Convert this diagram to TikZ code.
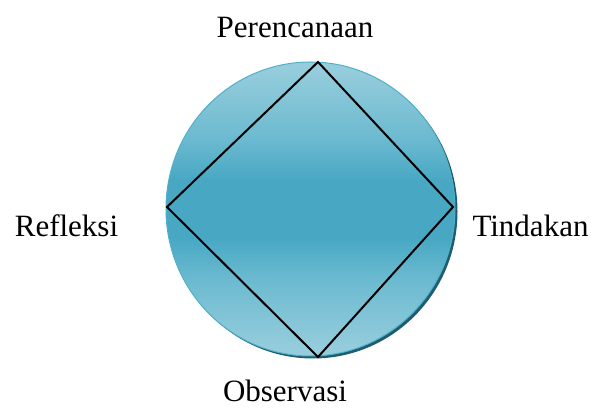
\documentclass[tikz,border=0pt]{standalone}
\usepackage{fontspec}
\setmainfont{Liberation Serif}
\definecolor{siklusterang}{RGB}{150,205,220}
\definecolor{sikluslembut}{RGB}{108,186,208}
\definecolor{siklustengah}{RGB}{72,168,196}
\definecolor{siklustepi}{RGB}{80,176,202}
\definecolor{siklusbayang}{RGB}{30,92,110}
\pgfdeclareverticalshading{pitabiru}{100bp}{
	color(0bp)=(siklusterang); color(26bp)=(siklusterang);
	color(38bp)=(sikluslembut); color(45bp)=(siklustengah);
	color(55bp)=(siklustengah); color(62bp)=(sikluslembut);
	color(74bp)=(siklusterang); color(100bp)=(siklusterang)}
\tikzset{
	tahap/.style={anchor=base, font=\fontsize{31}{36}\selectfont, inner sep=0pt},
	garis/.style={black, line width=2pt, line join=miter}
}
\begin{document}
\begin{tikzpicture}[x=1pt,y=-1pt]
	\useasboundingbox (0,0) rectangle (595,411);
	
	\fill[siklusbayang] (313,211.5) ellipse [x radius=144.5, y radius=147];
	\shade[shading=pitabiru, draw=siklustepi, line width=1pt] (310.5,209) ellipse [x radius=144.5, y radius=147];
	
	\coordinate (atas) at (318,62);
	\coordinate (kanan) at (453,207);
	\coordinate (bawah) at (318,357);
	\coordinate (kiri) at (167,207);
	\draw[garis] (atas)--(kanan)--(bawah)--(kiri)--cycle;
	
	\node[tahap] (perencanaan) at (295,37.5) {Perencanaan};
	\node[tahap] (tindakan) at (530.5,237) {Tindakan};
	\node[tahap] (observasi) at (285,402) {Observasi};
	\node[tahap] (refleksi) at (66.5,237) {Refleksi};
\end{tikzpicture}
\end{document}
